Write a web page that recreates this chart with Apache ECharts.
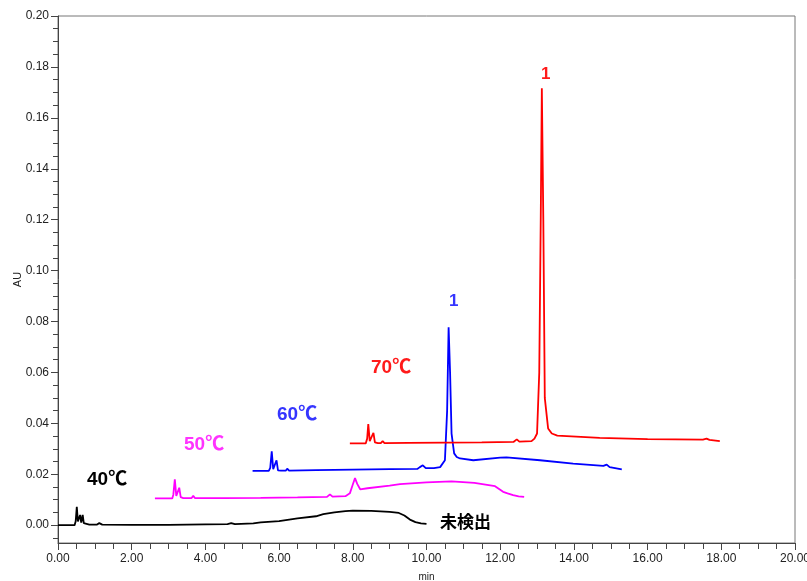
<!DOCTYPE html>
<html>
<head>
<meta charset="utf-8">
<script src="https://cdn.jsdelivr.net/npm/echarts@6/dist/echarts.min.js"></script>
<style>html,body{margin:0;padding:0;background:#fff}#c{width:807px;height:581px}</style>
</head>
<body>
<div id="c"></div>
<script>
// ---- data (retention time in min, absorbance in AU) ----
const t40 = [0, 0.45, 0.48, 0.51, 0.54, 0.57, 0.6, 0.63, 0.67, 0.7, 0.75, 0.85, 1.05, 1.12, 1.2, 2.0, 3.0, 4.0, 4.6, 4.7, 4.8, 5.3, 5.5, 6.0, 6.5, 7.0, 7.2, 7.5, 7.8, 8.0, 8.5, 9.0, 9.25, 9.4, 9.55, 9.7, 9.85, 10.0];
const v40 = [0, 0, 0.0015, 0.0072, 0.0015, 0.001, 0.004, 0.001, 0.004, 0.0008, 0.0004, 0.0002, 0.0002, 0.0008, 0.0002, 0.0001, 0.0001, 0.0003, 0.0004, 0.0008, 0.0004, 0.0007, 0.0011, 0.0016, 0.0027, 0.0035, 0.0043, 0.005, 0.0055, 0.0057, 0.0056, 0.0052, 0.0048, 0.0038, 0.0022, 0.0012, 0.0007, 0.0005];

const t50 = [2.63, 3.1, 3.13, 3.17, 3.21, 3.25, 3.29, 3.33, 3.4, 3.62, 3.67, 3.72, 4.5, 5.5, 6.5, 7.3, 7.38, 7.45, 7.8, 7.92, 8.0, 8.06, 8.12, 8.2, 8.4, 9.0, 9.28, 10.0, 10.68, 11.3, 11.86, 12.08, 12.2, 12.35, 12.5, 12.65];
const v50 = [0.0105, 0.0105, 0.012, 0.018, 0.0115, 0.0115, 0.0147, 0.011, 0.0106, 0.0106, 0.0115, 0.0106, 0.0106, 0.0107, 0.0109, 0.0111, 0.0121, 0.0112, 0.0114, 0.0125, 0.016, 0.0185, 0.0162, 0.0141, 0.0145, 0.0155, 0.0161, 0.0168, 0.0172, 0.0166, 0.0153, 0.0131, 0.0125, 0.0118, 0.0113, 0.0111];

const t60 = [5.28, 5.72, 5.76, 5.8, 5.84, 5.88, 5.93, 5.97, 6.05, 6.18, 6.22, 6.27, 7.0, 8.0, 9.0, 9.75, 9.82, 9.9, 9.98, 10.2, 10.37, 10.5, 10.56, 10.6, 10.64, 10.68, 10.75, 10.82, 10.91, 11.27, 12.0, 12.17, 13.08, 13.98, 14.8, 14.89, 14.97, 15.3];
const v60 = [0.0213, 0.0213, 0.0225, 0.029, 0.022, 0.022, 0.0255, 0.0215, 0.0214, 0.0214, 0.0222, 0.0214, 0.0216, 0.0218, 0.022, 0.0221, 0.0228, 0.0235, 0.0224, 0.0224, 0.0228, 0.0255, 0.045, 0.0777, 0.06, 0.036, 0.0282, 0.0268, 0.0262, 0.0255, 0.0265, 0.0266, 0.0255, 0.0242, 0.0233, 0.0238, 0.0228, 0.0219];

const t70 = [7.92, 8.35, 8.39, 8.42, 8.46, 8.5, 8.56, 8.6, 8.68, 8.76, 8.81, 8.86, 9.5, 10.5, 11.5, 12.36, 12.45, 12.52, 12.85, 12.93, 13.0, 13.06, 13.1, 13.13, 13.17, 13.21, 13.3, 13.4, 13.55, 14.7, 16.0, 17.5, 17.6, 17.68, 17.96];
const v70 = [0.0321, 0.0321, 0.034, 0.0397, 0.033, 0.033, 0.0363, 0.0325, 0.0322, 0.0322, 0.033, 0.0322, 0.0323, 0.0324, 0.0325, 0.0327, 0.0337, 0.0328, 0.033, 0.034, 0.036, 0.06, 0.12, 0.1716, 0.12, 0.05, 0.038, 0.036, 0.0352, 0.0343, 0.0338, 0.0336, 0.034, 0.0335, 0.033];

// axis ticks
const yMajor = [0, 0.02, 0.04, 0.06, 0.08, 0.10, 0.12, 0.14, 0.16, 0.18, 0.20];
const yMinor = [-0.005, 0.005, 0.01, 0.015, 0.025, 0.03, 0.035, 0.045, 0.05, 0.055, 0.065, 0.07, 0.075, 0.085, 0.09, 0.095, 0.105, 0.11, 0.115, 0.125, 0.13, 0.135, 0.145, 0.15, 0.155, 0.165, 0.17, 0.175, 0.185, 0.19, 0.195];

function pairs(t, v) { return t.map((x, i) => [x, v[i]]); }

const chart = echarts.init(document.getElementById('c'));
const lab = { color: '#222', fontSize: 12, fontFamily: 'Liberation Sans Narrow, Liberation Sans, sans-serif' };
function line(name, t, v, color) {
  return { name, type: 'line', data: pairs(t, v), showSymbol: false, symbol: 'none',
    lineStyle: { color, width: 1.8 }, itemStyle: { color }, animation: false, z: 3 };
}
function txt(x, y, s, color, size, ff) {
  return { type: 'text', left: x, top: y, z: 10,
    style: { text: s, fill: color, font: 'bold ' + size + 'px ' + (ff || '"Liberation Sans", "Noto Sans CJK JP", sans-serif') } };
}
chart.setOption({
  animation: false,
  grid: { left: 58, right: 12, top: 16, bottom: 38, show: true, borderColor: '#777', borderWidth: 1,
    containLabel: false, outerBoundsMode: 'none' },
  xAxis: {
    type: 'value', min: 0, max: 20, interval: 2,
    name: 'min', nameLocation: 'middle', nameGap: 29, nameMoveOverlap: false, nameTextStyle: { fontSize: 10, color: '#222' },
    axisLine: { show: true, onZero: false, lineStyle: { color: '#444' } },
    axisTick: { show: true, length: 7, lineStyle: { color: '#444' } },
    minorTick: { show: true, splitNumber: 4, length: 6, lineStyle: { color: '#444' } },
    splitLine: { show: false },
    axisLabel: Object.assign({ formatter: v => v.toFixed(2), margin: 10 }, lab)
  },
  yAxis: [{
    type: 'value', min: -0.007, max: 0.2,
    name: 'AU', nameLocation: 'middle', nameGap: 35, nameMoveOverlap: false, nameTextStyle: { fontSize: 11, color: '#222' },
    axisLine: { show: true, onZero: false, lineStyle: { color: '#444' } },
    axisTick: { show: true, length: 7, customValues: yMajor, lineStyle: { color: '#444' } },
    splitLine: { show: false },
    axisLabel: Object.assign({ customValues: yMajor, formatter: v => v.toFixed(2), margin: 9 }, lab)
  }, {
    type: 'value', min: -0.007, max: 0.2, position: 'left',
    axisLine: { show: false },
    axisTick: { show: true, length: 5, customValues: yMinor, lineStyle: { color: '#444' } },
    axisLabel: { show: false }, splitLine: { show: false }
  }],
  series: [
    line('40', t40, v40, '#000000'),
    line('50', t50, v50, '#ff00ff'),
    line('60', t60, v60, '#0000ff'),
    line('70', t70, v70, '#ff0000')
  ],
  graphic: [
    txt(87, 470, '40℃', '#000000', 19),
    txt(184, 435, '50℃', '#ff33ff', 19),
    txt(277, 405, '60℃', '#3535ff', 19),
    txt(371, 358, '70℃', '#ff1a1a', 19),
    txt(449, 293, '1', '#3535ff', 17),
    txt(541, 66, '1', '#ff1a1a', 17),
    txt(440, 513, '未検出', '#000000', 17, '"Noto Sans CJK JP", sans-serif')
  ]
});
</script>
</body>
</html>
